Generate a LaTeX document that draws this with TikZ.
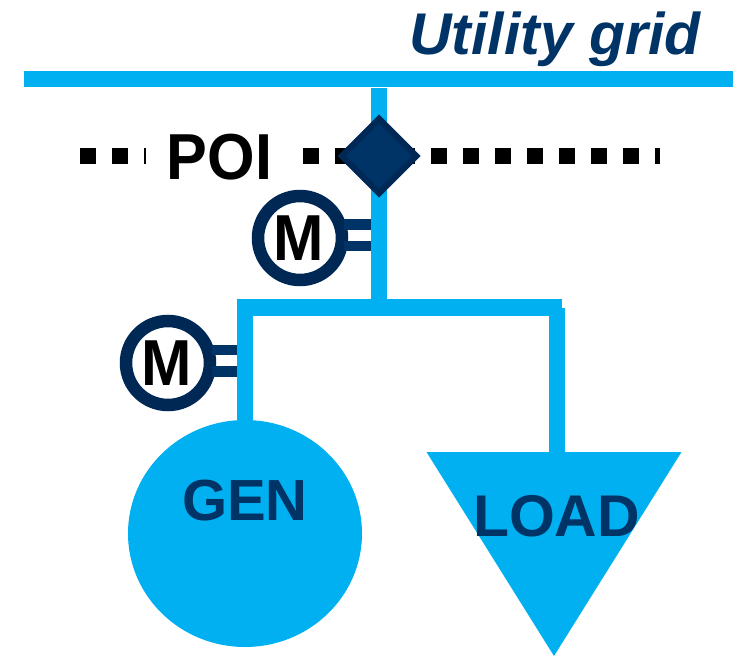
\documentclass[tikz,border=0pt]{standalone}
\usepackage{fontspec}
\setmainfont{Liberation Sans}
\usetikzlibrary{shapes.geometric}
\definecolor{busblue}{HTML}{00B0F0}
\definecolor{navyfill}{HTML}{003366}
\definecolor{navyline}{HTML}{002855}
\newcommand{\meterletter}{\scalebox{0.93}[1]{\fontsize{37}{37}\selectfont\bfseries M}}
\begin{document}
\begin{tikzpicture}[bus/.style = {line width=0.32cm,busblue},
	poiline/.style = {line width=0.32cm,black,dash pattern=on 0.32cm off 0.32cm},
	stub/.style = {line width=0.21cm,navyfill},
	meter/.style = {draw=navyline,fill=white,circle,line width=0.25cm,minimum size=1.68cm,inner sep=0pt,text=black}]
	\useasboundingbox (0,0) rectangle (14.88,13.12);
	\coordinate (gridL) at (0.48,11.54);
	\coordinate (gridR) at (14.66,11.54);
	\coordinate (feederTop) at (7.58,11.36);
	\coordinate (feederEnd) at (7.58,6.97);
	\coordinate (busL) at (4.74,6.97);
	\coordinate (busR) at (11.24,6.97);
	\coordinate (genTop) at (4.9,6.97);
	\coordinate (loadTop) at (11.14,6.97);
	\coordinate (poiA) at (1.6,10);
	\coordinate (poiB) at (2.92,10);
	\coordinate (poiC) at (6.06,10);
	\coordinate (poiD) at (13.2,10);
	\coordinate (stubA) at (7.5,8.63);
	\coordinate (stubB) at (7.5,8.2);
	\coordinate (stubC) at (4.82,6.12);
	\coordinate (stubD) at (4.82,5.69);
	% generator and load
	\node[ellipse,fill=busblue,minimum width=4.68cm,minimum height=4.54cm,inner sep=0pt] (gen) at (4.9,2.45) {};
	\node[isosceles triangle,isosceles triangle stretches,shape border rotate=-90,fill=busblue,minimum width=5.1cm,minimum height=4.08cm,inner sep=0pt,outer sep=0pt,anchor=apex] (load) at (11.08,0) {};
	% measuring points
	\node[meter] (meterA) at (6,8.36) {\kern-0.06cm\meterletter};
	\node[meter] (meterB) at (3.36,5.86) {\kern-0.06cm\meterletter};
	\draw [stub] ([xshift=-0.08cm]meterA.east |- stubA) -- (stubA);
	\draw [stub] ([xshift=-0.08cm]meterA.east |- stubB) -- (stubB);
	\draw [stub] ([xshift=-0.08cm]meterB.east |- stubC) -- (stubC);
	\draw [stub] ([xshift=-0.08cm]meterB.east |- stubD) -- (stubD);
	% busbars
	\draw [bus] (gridL) -- (gridR);
	\draw [bus] (feederTop) -- (feederEnd);
	\draw [bus] (busL) -- (busR);
	\draw [bus] (genTop) -- (gen.north);
	\draw [bus] (loadTop) -- (loadTop |- load.lower side);
	% point of interconnection
	\draw [poiline] (poiA) -- (poiB);
	\draw [poiline] (poiC) -- (poiD);
	\node[diamond,draw=navyline,fill=navyfill,line width=0.12cm,aspect=1,minimum size=1.54cm,inner sep=0pt] (poi) at (7.58,10) {};
	% labels
	\node[anchor=base,inner sep=0pt] (poiText) at (4.39,9.52) {\scalebox{0.94}[1]{\fontsize{37}{37}\selectfont\bfseries POI}};
	\node[anchor=base,inner sep=0pt,font=\fontsize{33.5}{33.5}\selectfont\bfseries\itshape,text=navyfill] (gridText) at (11.1,12.02) {Utility grid};
	\node[anchor=base,inner sep=0pt,font=\fontsize{33}{33}\selectfont\bfseries,text=navyfill] (genText) at (4.9,2.72) {GEN};
	\node[anchor=base,inner sep=0pt,font=\fontsize{33.5}{33.5}\selectfont\bfseries,text=navyfill] (loadText) at (11.13,2.38) {LOAD};
\end{tikzpicture}
\end{document}
